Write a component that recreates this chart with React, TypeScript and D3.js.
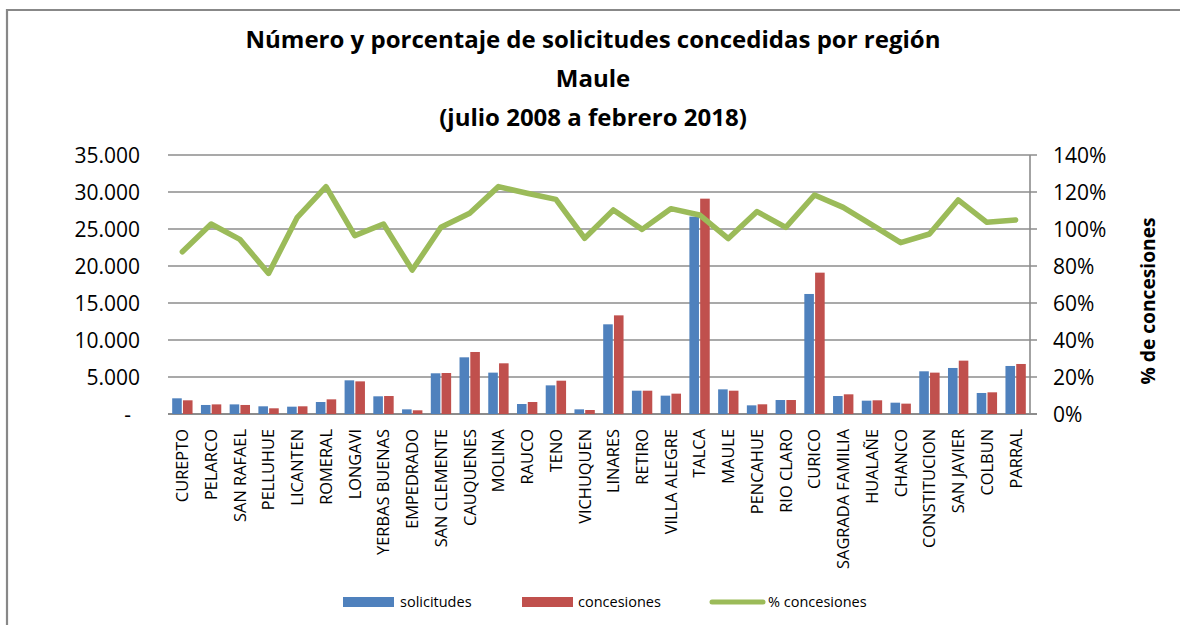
import React from "react";
import * as d3 from "d3";

const categories = [
  "CUREPTO", "PELARCO", "SAN RAFAEL", "PELLUHUE", "LICANTEN", "ROMERAL", "LONGAVI",
  "YERBAS BUENAS", "EMPEDRADO", "SAN CLEMENTE", "CAUQUENES", "MOLINA", "RAUCO", "TENO",
  "VICHUQUEN", "LINARES", "RETIRO", "VILLA ALEGRE", "TALCA", "MAULE", "PENCAHUE",
  "RIO CLARO", "CURICO", "SAGRADA FAMILIA", "HUALAÑE", "CHANCO", "CONSTITUCION",
  "SAN JAVIER", "COLBUN", "PARRAL",
];

const solicitudes = [
  2120, 1220, 1300, 1040, 990, 1620, 4550, 2390, 630, 5500, 7660, 5590, 1350, 3870,
  630, 12120, 3150, 2480, 26670, 3330, 1170, 1890, 16220, 2430, 1800, 1530, 5770,
  6220, 2840, 6490,
];

const concesiones = [
  1850, 1300, 1220, 770, 1040, 1980, 4410, 2430, 500, 5540, 8380, 6850, 1620, 4500,
  540, 13330, 3150, 2750, 29100, 3150, 1310, 1890, 19100, 2660, 1850, 1400, 5590,
  7210, 2930, 6760,
];

const pctConcesiones = [
  87.7, 102.7, 94.4, 76.0, 106.3, 122.9, 96.4, 102.7, 77.8, 100.9, 108.5, 122.9, 119.3,
  116.0, 95.0, 110.3, 99.8, 111.0, 107.6, 94.8, 109.4, 100.9, 118.4, 111.7, 102.2,
  92.6, 97.3, 115.7, 103.6, 104.9,
];

const leftTicks = [0, 5000, 10000, 15000, 20000, 25000, 30000, 35000];
const rightTicks = [0, 20, 40, 60, 80, 100, 120, 140];

const titleLines = [
  "Número y porcentaje de solicitudes concedidas por región",
  "Maule",
  "(julio 2008 a febrero 2018)",
];

const W = 1180;
const H = 625;
const plot = { left: 168, right: 1030, top: 155, bottom: 414 };
const FONT = "'Open Sans', 'Liberation Sans', sans-serif";
const BLUE = "#4F81BD";
const RED = "#C0504D";
const GREEN = "#9BBB59";
const GRID = "#8C8C8C";

const fmt = (v: number) =>
  v === 0 ? "-" : d3.format(",")(v).replace(/,/g, ".");

export default function App() {
  const x = d3
    .scaleBand<string>()
    .domain(categories)
    .range([plot.left, plot.right])
    .paddingInner(0)
    .paddingOuter(0);
  const bw = x.bandwidth();
  const groupPad = 0.125;
  const inner = d3
    .scaleBand<string>()
    .domain(["s", "c"])
    .range([bw * groupPad, bw * (1 - groupPad)]);
  const yL = d3.scaleLinear().domain([0, 35000]).range([plot.bottom, plot.top]);
  const yR = d3.scaleLinear().domain([0, 140]).range([plot.bottom, plot.top]);

  const line = d3
    .line<number>()
    .x((_, i) => (x(categories[i]) as number) + bw / 2)
    .y((d) => yR(d));

  const sw = inner.bandwidth();

  return (
    <svg
      width={W}
      height={H}
      style={{ position: "absolute", left: 0, top: 0, background: "#fff" }}
      fontFamily={FONT}
    >
      <rect x={0} y={0} width={W} height={H} fill="#fff" />
      <path d={`M7,${H} L7,10 L${W},10`} fill="none" stroke="#888" strokeWidth={2.2} />

      {titleLines.map((t, i) => (
        <text
          key={i}
          x={593}
          y={[48, 87, 126][i]}
          textAnchor="middle"
          fontWeight="bold"
          fontSize={24}
          fill="#000"
        >
          {t}
        </text>
      ))}

      {/* gridlines */}
      {leftTicks.map((t) => (
        <line
          key={t}
          x1={plot.left}
          x2={plot.right + 7}
          y1={yL(t)}
          y2={yL(t)}
          stroke={GRID}
          strokeWidth={t === 0 ? 1.8 : 1.4}
        />
      ))}
      <line x1={plot.right} x2={plot.right} y1={plot.top} y2={plot.bottom} stroke={GRID} strokeWidth={1.6} />

      {/* left tick labels */}
      {leftTicks.map((t) => (
        <text
          key={t}
          x={t === 0 ? 131 : 140}
          y={yL(t)}
          dy="0.36em"
          textAnchor="end"
          fontSize={21}
          fill="#000"
        >
          {fmt(t)}
        </text>
      ))}

      {/* right tick labels */}
      {rightTicks.map((t) => (
        <text key={t} x={1053} y={yR(t)} dy="0.36em" fontSize={21} fill="#000">
          {t}%
        </text>
      ))}

      <text
        transform={`translate(1155,301) rotate(-90)`}
        textAnchor="middle"
        fontWeight="bold"
        fontSize={19.2}
        fill="#000"
      >
        % de concesiones
      </text>

      {/* bars */}
      {categories.map((c, i) => {
        const x0 = x(c) as number;
        return (
          <g key={c}>
            <rect
              x={x0 + (inner("s") as number) + 0.6}
              y={yL(solicitudes[i])}
              width={sw - 1.2}
              height={plot.bottom - yL(solicitudes[i])}
              fill={BLUE}
            />
            <rect
              x={x0 + (inner("c") as number) + 0.6}
              y={yL(concesiones[i])}
              width={sw - 1.2}
              height={plot.bottom - yL(concesiones[i])}
              fill={RED}
            />
          </g>
        );
      })}

      {/* line */}
      <path
        d={line(pctConcesiones) || ""}
        fill="none"
        stroke={GREEN}
        strokeWidth={5.5}
        strokeLinejoin="round"
        strokeLinecap="round"
      />

      {/* category labels */}
      {categories.map((c) => {
        const cx = (x(c) as number) + bw / 2;
        return (
          <text
            key={c}
            transform={`translate(${cx},429) rotate(-90)`}
            textAnchor="end"
            dy="0.36em"
            fontSize={16.4}
            fill="#000"
          >
            {c}
          </text>
        );
      })}

      {/* legend */}
      <rect x={343} y={597} width={51} height={10} fill={BLUE} />
      <text x={400} y={602} dy="0.36em" fontSize={14.5} fill="#000">
        solicitudes
      </text>
      <rect x={522} y={597} width={51} height={10} fill={RED} />
      <text x={578} y={602} dy="0.36em" fontSize={14.5} fill="#000">
        concesiones
      </text>
      <line x1={712} x2={763} y1={602} y2={602} stroke={GREEN} strokeWidth={5} strokeLinecap="round" />
      <text x={768} y={602} dy="0.36em" fontSize={14.5} fill="#000">
        % concesiones
      </text>
    </svg>
  );
}
